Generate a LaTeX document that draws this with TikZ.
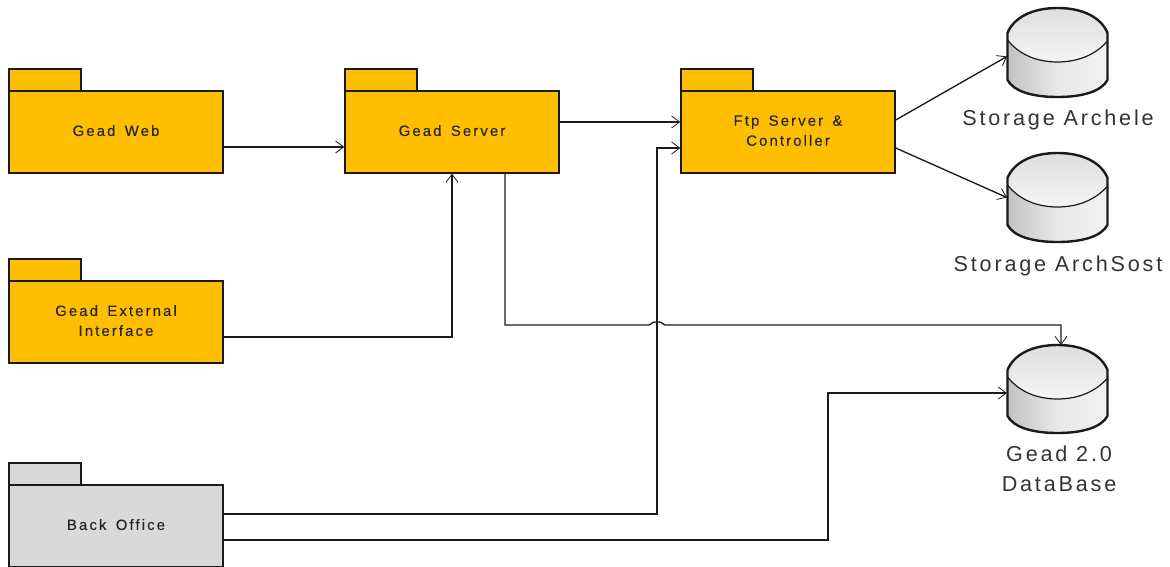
\documentclass[tikz,border=0pt]{standalone}
\usepackage{fontspec}
\setmainfont{Liberation Sans}
\newfontfamily\pkgfont[LetterSpace=14,FakeBold=0.25,WordSpace=1.5]{Liberation Sans}
\newfontfamily\dbfont[LetterSpace=13]{Liberation Sans}
\usetikzlibrary{arrows.meta,calc}
\definecolor{pkgorange}{HTML}{FFBF00}
\definecolor{pkggrey}{HTML}{D9D9D9}
\definecolor{inkline}{HTML}{1A1A1A}
\tikzset{
  x=0.75pt,y=-0.75pt,
  pkgbody/.style={draw=inkline,line width=1.1pt,fill=#1,minimum width=160.5pt,minimum height=61.5pt,inner sep=0pt,align=center,text=black!85,text depth=2.2pt,font=\pkgfont\fontsize{11.2}{15}\selectfont},
  pkgtab/.style={draw=inkline,line width=1.1pt,fill=#1,minimum width=54pt,minimum height=16.5pt,inner sep=0pt},
  cylbox/.style={minimum width=75.5pt,minimum height=66pt,inner sep=0pt},
  dblabel/.style={align=center,inner sep=0pt,text=black!80,font=\dbfont\fontsize{16.2}{22.5}\selectfont},
  link/.style={draw=inkline,line width=1pt,-{Straight Barb[length=6pt,width=9pt,line width=0.6pt]}},
}
\newcommand{\dbcyl}[4]{% name, cx, top, bottom
  \node[cylbox] (#1) at (#2,{(#3+#4)/2}) {};
  \begin{scope}[shift={(#2,#3)}]
    \pgfmathsetmacro{\hh}{#4-#3}
    \pgfmathsetmacro{\mm}{\hh-17}
    \fill[left color=black!24,right color=black!5,middle color=black!9]
      (-50,25) -- (-50,\mm) .. controls (-44,{\mm+11}) and (-26,\hh) .. (0,\hh)
      .. controls (26,\hh) and (44,{\mm+11}) .. (50,\mm) -- (50,25) -- cycle;
    \fill[top color=black!13,bottom color=white!96!black]
      (-50,30) -- (-50,25) .. controls (-44,10) and (-26,0) .. (0,0)
      .. controls (26,0) and (44,10) .. (50,25) -- (50,33)
      .. controls (38,47) and (20,54) .. (0,54)
      .. controls (-20,54) and (-38,47) .. (-50,32) -- cycle;
    \draw[inkline,line width=1.8pt,line join=round]
      (-50,25) .. controls (-44,10) and (-26,0) .. (0,0)
      .. controls (26,0) and (44,10) .. (50,25) -- (50,\mm)
      .. controls (44,{\mm+11}) and (26,\hh) .. (0,\hh)
      .. controls (-26,\hh) and (-44,{\mm+11}) .. (-50,\mm) -- cycle;
    \draw[inkline,line width=0.9pt]
      (-50,32) .. controls (-38,47) and (-20,54) .. (0,54)
      .. controls (20,54) and (38,47) .. (50,33);
  \end{scope}
}
\begin{document}
\begin{tikzpicture}
\useasboundingbox (0,0) rectangle (1170,567);
% tabs
\node[pkgtab=pkgorange] (webtab) at (45,80) {};
\node[pkgtab=pkgorange] (servertab) at (381,80) {};
\node[pkgtab=pkgorange] (ftptab) at (717,80) {};
\node[pkgtab=pkgorange] (exttab) at (45,270) {};
\node[pkgtab=pkggrey] (backtab) at (45,474) {};
% bodies
\node[pkgbody=pkgorange] (web) at (116,132) {Gead Web};
\node[pkgbody=pkgorange] (server) at (452,132) {Gead Server};
\node[pkgbody=pkgorange] (ftp) at (788,132) {Ftp Server \&\\Controller};
\node[pkgbody=pkgorange] (ext) at (116,322) {Gead External\\Interface};
\node[pkgbody=pkggrey] (back) at (116,526) {Back Office};
% databases
\dbcyl{archele}{1057.5}{8}{97}
\dbcyl{archsost}{1057.5}{153}{242}
\dbcyl{geaddb}{1057.5}{345}{433}
\node[dblabel] (archelelabel) at (1058,119.5) {Storage Archele};
\node[dblabel] (archsostlabel) at (1058,265.5) {Storage ArchSost};
\node[dblabel] (geaddblabel) at (1059,469) {Gead 2.0\\DataBase};
% connectors
\draw[link] ([yshift=-11.25pt]web.east) -- ([yshift=-11.25pt]server.west);
\draw[link] ([yshift=-11.25pt]ext.east) -| (server.south);
\draw[link] ([yshift=7.5pt]server.east) -- ([yshift=7.5pt]ftp.west);
\draw[link] ([yshift=9pt]ftp.east) -- ([yshift=-3pt]archele.west);
\draw[link] ([yshift=-12pt]ftp.east) -- (archsost.west);
\coordinate (jumpx) at (657,325);
\coordinate (dbtop) at (1061,345);
\draw[link] ([xshift=39.75pt]server.south) |- ($(jumpx)+(-8,0)$)
  .. controls ($(jumpx)+(-5,0)$) and ($(jumpx)+(-6,-3)$) .. ($(jumpx)+(-2,-3)$)
  -- ($(jumpx)+(2,-3)$)
  .. controls ($(jumpx)+(6,-3)$) and ($(jumpx)+(5,0)$) .. ($(jumpx)+(8,0)$)
  -| (dbtop);
\draw[link] ([yshift=9pt]back.east) -| (jumpx) |- ([yshift=-12pt]ftp.west);
\coordinate (dbturn) at (828,393);
\draw[link] ([yshift=-10.5pt]back.east) -| (dbturn) -- ([yshift=-3pt]geaddb.west);
\end{tikzpicture}
\end{document}
